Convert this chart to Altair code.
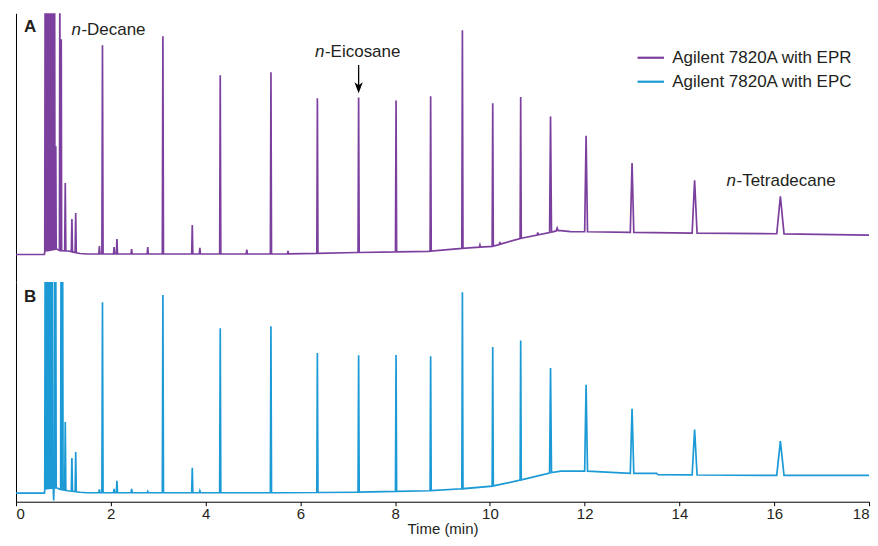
import altair as alt
import numpy as np
import pandas as pd

# ---------------- data ----------------
series_names = ["Agilent 7820A with EPR", "Agilent 7820A with EPC"]
series_colors = ["#7b3f9e", "#1b9ad6"]
time_ticks = [0, 2, 4, 6, 8, 10, 12, 14, 16, 18]

# Trace A (EPR): baseline breakpoints (time, signal)
a_base_t = [0, 0.60, 0.61, 0.86, 0.92, 1.10, 1.35, 1.50, 5.6, 7.2, 8.7, 9.42, 10.06, 10.65, 11.28, 11.45, 11.7, 13.0, 14.3, 16.1, 18.0]
a_base_v = [27.5, 27.5, 31, 33, 31.5, 31, 28.5, 28, 28, 29.5, 30.7, 33.7, 35.7, 43.7, 49.7, 51.7, 50.5, 49.7, 49, 48.3, 47]
# Trace A peaks: retention time, apex signal, half width
a_peak_t = [0.615, 0.64, 0.665, 0.69, 0.715, 0.74, 0.765, 0.79, 0.815, 0.84, 0.925, 0.955,
            1.04, 1.18, 1.26, 1.76, 1.825, 2.07, 2.13, 2.44, 2.78, 3.10, 3.72, 3.88, 4.31,
            4.87, 5.38, 5.74, 6.36, 7.23, 8.02, 8.75, 9.42, 9.79, 10.06, 10.21, 10.65, 11.01,
            11.28, 11.42, 12.03, 13.00, 14.32, 16.13]
a_peak_v = [300, 300, 300, 300, 300, 300, 300, 300, 300, 136, 300, 243,
            99, 63, 69, 36, 237, 35, 43, 33, 35, 246, 57, 34.3, 207,
            32.3, 210, 31, 184, 184.7, 181.7, 186, 252, 37, 179, 40, 185.3, 49.7,
            165.7, 54, 146.3, 119, 101.7, 85.7]
a_peak_w = [0.008] * 12 + [0.012] * 26 + [0.02, 0.02, 0.03, 0.037, 0.052, 0.077]

# Trace B (EPC)
b_base_t = [0, 0.60, 0.61, 0.86, 0.92, 1.10, 1.35, 1.50, 5.6, 7.2, 8.75, 9.42, 10.06, 10.65, 11.28, 11.5, 12.0, 13.0, 13.52, 13.55, 16.1, 18.0]
b_base_v = [8.7, 8.7, 13, 14, 12.5, 11, 9.5, 9, 9, 9.5, 11, 13, 15.7, 21.7, 29, 30.7, 30.7, 28.3, 28.3, 27, 26.3, 26.3]
b_peak_t = [0.615, 0.64, 0.665, 0.69, 0.715, 0.74, 0.765, 0.795, 0.815, 0.84, 0.95, 0.985,
            1.04, 1.18, 1.26, 1.76, 1.825, 2.07, 2.13, 2.44, 2.78, 3.10, 3.72, 3.88, 4.31,
            5.38, 6.36, 7.23, 8.02, 8.75, 9.42, 10.06, 10.65, 11.28,
            12.03, 13.00, 14.32, 16.13]
b_peak_v = [240, 240, 240, 240, 240, 240, 240, 1.3, 240, 240, 240, 240,
            79.7, 43.7, 49.7, 12.3, 199.7, 13, 21, 13, 10.3, 207, 34, 11, 173.7,
            175.7, 149, 146.7, 147, 145.7, 209.7, 155, 161.3, 134,
            117, 93, 72.3, 60.7]
b_peak_w = [0.008] * 12 + [0.012] * 21 + [0.02, 0.03, 0.037, 0.052, 0.077]

# Annotations
label_split_t = [1.38, 6.52, 15.205]
label_v = [247, 225.7, 96.3]
label_italic = ["n", "n", "n"]
label_rest = ["-Decane", "-Eicosane", "-Tetradecane"]
panel_letter_t = [0.30]
panel_letter_a_v = [250.7]
panel_letter_b_v = [200]
arrow_t = [7.23]
arrow_top_v = [217.3]
arrow_bot_v = [192]
arrow_tip_v = [189]


def build_trace(base_t, base_v, pk_t, pk_v, pk_w, name):
    pts = []
    for t, v in zip(base_t, base_v):
        if not any(abs(t - p) <= w for p, w in zip(pk_t, pk_w)):
            pts.append((t, v))
    for p, v, w in zip(pk_t, pk_v, pk_w):
        pts.append((p - w, float(np.interp(p - w, base_t, base_v))))
        pts.append((p, v))
        pts.append((p + w, float(np.interp(p + w, base_t, base_v))))
    pts.sort()
    df = pd.DataFrame(pts, columns=["time", "signal"])
    df["series"] = name
    df["order"] = range(len(df))
    return df


df_a = build_trace(a_base_t, a_base_v, a_peak_t, a_peak_v, a_peak_w, series_names[0])
df_b = build_trace(b_base_t, b_base_v, b_peak_t, b_peak_v, b_peak_w, series_names[1])

W = 854
HA = 269
HB = 220
FONT = "Liberation Sans"
TXT = "#231f20"

color_scale = alt.Scale(domain=series_names, range=series_colors)
x_scale = alt.Scale(domain=[0, 18], nice=False, zero=False)

x_a = alt.X("time:Q", scale=x_scale, axis=None)
x_b = alt.X("time:Q", scale=x_scale,
            title="Time (min)",
            axis=alt.Axis(values=time_ticks, grid=False, tickSize=4, tickColor="black",
                          domainColor="black", labelFont=FONT, labelFontSize=15,
                          labelColor=TXT, labelPadding=1, labelFlush=True,
                          titleFont=FONT, titleFontSize=15, titleFontWeight="normal",
                          titleColor=TXT, titlePadding=0))
y_axis = alt.Axis(labels=False, ticks=False, grid=False, title=None, domainColor="black",
                  minExtent=0, maxExtent=0)

legend = alt.Legend(title=None, orient="none", legendX=621, legendY=30,
                    symbolType="stroke", symbolSize=700, symbolStrokeWidth=2.2,
                    labelFont=FONT, labelFontSize=17, labelColor=TXT, labelOffset=7,
                    rowPadding=1, labelLimit=400)

ya_scale = alt.Scale(domain=[0, HA], nice=False, zero=False)
yb_scale = alt.Scale(domain=[0, HB], nice=False, zero=False)

line_a = alt.Chart(df_a).mark_line(strokeWidth=1.7, clip=True, strokeJoin="miter").encode(
    x=x_a,
    y=alt.Y("signal:Q", scale=ya_scale, axis=y_axis),
    color=alt.Color("series:N", scale=color_scale, legend=legend),
    order="order:Q",
)

ann_df = pd.DataFrame({"t": label_split_t, "v": label_v, "it": label_italic, "rest": label_rest})
ital = alt.Chart(ann_df).mark_text(font=FONT, fontSize=17, fontStyle="italic", align="right",
                                   baseline="alphabetic", color=TXT, dx=-0.5).encode(
    x="t:Q", y="v:Q", text="it:N")
rest = alt.Chart(ann_df).mark_text(font=FONT, fontSize=17, align="left",
                                   baseline="alphabetic", color=TXT).encode(
    x="t:Q", y="v:Q", text="rest:N")

letter_a = alt.Chart(pd.DataFrame({"t": panel_letter_t, "v": panel_letter_a_v, "s": ["A"]})).mark_text(
    font=FONT, fontSize=17, fontWeight="bold", align="center", baseline="alphabetic", color=TXT
).encode(x="t:Q", y="v:Q", text="s:N")

arrow_df = pd.DataFrame({"t": arrow_t, "top": arrow_top_v, "bot": arrow_bot_v, "tip": arrow_tip_v})
shaft = alt.Chart(arrow_df).mark_rule(color="black", strokeWidth=1.3).encode(
    x="t:Q", y="top:Q", y2="bot:Q")
head = alt.Chart(arrow_df).mark_point(
    shape="M -1 -2.6 L 0 0 L 1 -2.6 L 0 -1.9 Z", filled=True, color="black", size=70, opacity=1
).encode(x="t:Q", y="tip:Q")

panel_a = alt.layer(line_a, ital, rest, letter_a, shaft, head).properties(width=W, height=HA)

line_b = alt.Chart(df_b).mark_line(strokeWidth=1.7, clip=True, strokeJoin="miter").encode(
    x=x_b,
    y=alt.Y("signal:Q", scale=yb_scale, axis=y_axis),
    color=alt.Color("series:N", scale=color_scale, legend=legend),
    order="order:Q",
)
letter_b = alt.Chart(pd.DataFrame({"t": panel_letter_t, "v": panel_letter_b_v, "s": ["B"]})).mark_text(
    font=FONT, fontSize=17, fontWeight="bold", align="center", baseline="alphabetic", color=TXT
).encode(x="t:Q", y="v:Q", text="s:N")

panel_b = alt.layer(line_b, letter_b).properties(width=W, height=HB)

chart = alt.vconcat(panel_a, panel_b, spacing=0).resolve_scale(y="independent").properties(
    padding={"left": 7, "top": 5, "right": 0, "bottom": 0}
).configure_view(stroke=None)

chart.save("out.html", embed_options={"renderer": "svg", "actions": False})
